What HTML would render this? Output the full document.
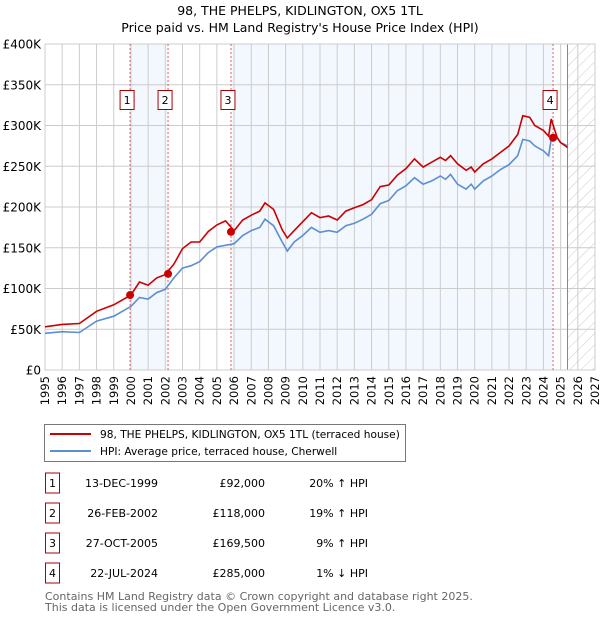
<!DOCTYPE html>
<html><head><meta charset="utf-8">
<style>
body{margin:0;background:#fff;font-family:"DejaVu Sans","Liberation Sans",sans-serif;}
svg text{font-family:"DejaVu Sans","Liberation Sans",sans-serif;}
</style></head>
<body>
<svg id="chart" width="600" height="620" xmlns="http://www.w3.org/2000/svg">
<defs>
<pattern id="hatch" width="8" height="8" patternUnits="userSpaceOnUse" patternTransform="rotate(45)">
<line x1="0" y1="0" x2="0" y2="8" stroke="#ccc" stroke-width="1"/>
</pattern>
</defs>
<text x="300" y="15" text-anchor="middle" font-size="12.5">98, THE PHELPS, KIDLINGTON, OX5 1TL</text>
<text x="300" y="32" text-anchor="middle" font-size="12.5">Price paid vs. HM Land Registry's House Price Index (HPI)</text>
<g id="plot"></g>
<g>
<rect x="44.5" y="424.5" width="361" height="37" fill="#fff" stroke="#777"/>
<line x1="50" y1="434" x2="91" y2="434" stroke="#cc0000" stroke-width="2"/>
<text x="100" y="438" font-size="10.6">98, THE PHELPS, KIDLINGTON, OX5 1TL (terraced house)</text>
<line x1="50" y1="451" x2="91" y2="451" stroke="#5b8fd0" stroke-width="2"/>
<text x="100" y="455" font-size="10.6">HPI: Average price, terraced house, Cherwell</text>
</g>
<g id="table" font-size="11"></g>
<text x="45" y="600" font-size="11" fill="#666">Contains HM Land Registry data © Crown copyright and database right 2025.</text>
<text x="45" y="611" font-size="11" fill="#666">This data is licensed under the Open Government Licence v3.0.</text>
</svg>
<script>
const hpiYears=[1995,1996,1997,1998,1999,2000,2000.5,2001,2001.5,2002,2002.5,2003,2003.5,2004,2004.5,2005,2005.5,2006,2006.5,2007,2007.5,2007.8,2008.3,2008.8,2009.1,2009.5,2010,2010.5,2011,2011.5,2012,2012.5,2013,2013.5,2014,2014.5,2015,2015.5,2016,2016.5,2017,2017.5,2018,2018.3,2018.6,2019,2019.5,2019.8,2020,2020.5,2021,2021.5,2022,2022.5,2022.8,2023.2,2023.5,2024,2024.3,2024.45,2024.8,2025,2025.4];
const hpiValues=[45,47,46,60,66,78,89,87,95,99,113,125,128,133,144,151,153,155,165,171,175,185,177,157,146,157,165,175,169,171,169,177,180,185,191,204,208,220,226,236,228,232,238,234,240,228,222,228,222,232,238,246,252,263,283,281,275,269,263,283,285,279,275];
const redValues=[53,56,57,72,80,92,108,104,113,117,130,149,157,157,170,178,183,171,184,190,195,205,197,172,162,171,182,193,187,189,184,195,199,203,209,225,227,239,247,259,249,255,261,257,263,253,245,249,243,253,259,267,275,289,312,310,300,294,287,308,285,279,273];
const saleYears=[1999.95,2002.16,2005.82,2024.56];
const saleValues=[92,118,169.5,285];
const saleLabels=["1","2","3","4"];
const saleDates=["13-DEC-1999","26-FEB-2002","27-OCT-2005","22-JUL-2024"];
const salePrices=["£92,000","£118,000","£169,500","£285,000"];
const saleDiffs=["20% ↑ HPI","19% ↑ HPI","9% ↑ HPI","1% ↓ HPI"];
const yTicks=[0,50,100,150,200,250,300,350,400];
const yTickLabels=["£0","£50K","£100K","£150K","£200K","£250K","£300K","£350K","£400K"];
const xTicks=[1995,1996,1997,1998,1999,2000,2001,2002,2003,2004,2005,2006,2007,2008,2009,2010,2011,2012,2013,2014,2015,2016,2017,2018,2019,2020,2021,2022,2023,2024,2025,2026,2027];
const dataEnd=2025.4;

const X0=45,X1=595,Y0=370,Y1=44;
const xs=y=>X0+(y-1995)/(2027-1995)*(X1-X0);
const ys=v=>Y0-v/400*(Y0-Y1);
const NS="http://www.w3.org/2000/svg";
const plot=document.getElementById('plot');
function mk(tag,attrs,parent){const e=document.createElementNS(NS,tag);for(const k in attrs)e.setAttribute(k,attrs[k]);(parent||plot).appendChild(e);return e;}

let r=mk('rect',{x:X0,y:Y1,width:X1-X0,height:Y0-Y1,fill:'#fff'});


r=mk('rect',{x:xs(saleYears[0]),y:Y1,width:xs(saleYears[1])-xs(saleYears[0]),height:Y0-Y1,fill:'#eef3fd',opacity:0.7});


r=mk('rect',{x:xs(saleYears[2]),y:Y1,width:xs(saleYears[3])-xs(saleYears[2]),height:Y0-Y1,fill:'#eef3fd',opacity:0.7});


r=mk('rect',{x:xs(dataEnd),y:Y1,width:X1-xs(dataEnd),height:Y0-Y1,fill:'url(#hatch)'});



xTicks.forEach(t=>{
 const l=mk('line',{x1:xs(t),x2:xs(t),y1:Y1,y2:Y0,stroke:'#ccc','stroke-width':1});
 
 
 const tx=mk('text',{x:0,y:0,'font-size':11.5,'text-anchor':'end',transform:`translate(${xs(t)+4},${Y0+6}) rotate(-90)`});
 tx.textContent=t;
 
 
});
yTicks.forEach((t,i)=>{
 const l=mk('line',{x1:X0,x2:X1,y1:ys(t),y2:ys(t),stroke:'#ccc','stroke-width':1});
 
 
 const tx=mk('text',{x:X0-4,y:ys(t)+4.5,'font-size':12,'text-anchor':'end'});
 tx.textContent=yTickLabels[i];
 
 
});
r=mk('line',{x1:xs(dataEnd),x2:xs(dataEnd),y1:Y1,y2:Y0,stroke:'#888','stroke-width':1});


r=mk('rect',{x:X0,y:Y1,width:X1-X0,height:Y0-Y1,fill:'none',stroke:'#ccc'});



saleYears.forEach((s,i)=>{
 const l=mk('line',{x1:xs(s),x2:xs(s),y1:Y1,y2:Y0,stroke:'#e06060','stroke-width':1,'stroke-dasharray':'2,2'});
 
 
});

const hp=mk('path',{d:hpiYears.map((y,i)=>(i?'L':'M')+xs(y).toFixed(1)+','+ys(hpiValues[i]).toFixed(1)).join(''),fill:'none',stroke:'#5b8fd0','stroke-width':1.6});


const rp=mk('path',{d:hpiYears.map((y,i)=>(i?'L':'M')+xs(y).toFixed(1)+','+ys(redValues[i]).toFixed(1)).join(''),fill:'none',stroke:'#cc0000','stroke-width':1.6});



saleYears.forEach((s,i)=>{
 const c=mk('circle',{cx:xs(s),cy:ys(saleValues[i]),r:4,fill:'#cc0000'});
 
 
 const bx=xs(s)-10;
 const b=mk('rect',{x:bx,y:90.5,width:14,height:19,fill:'#fff',stroke:'#aa0000'});
 
 
 const t=mk('text',{x:bx+7,y:104,'font-size':11,'text-anchor':'middle'});
 t.textContent=saleLabels[i];
 
 
});

const tbl=document.getElementById('table');
saleLabels.forEach((lab,i)=>{
 const cy=483+i*30;
 const b=mk('rect',{x:45.5,y:cy-10,width:14,height:20,fill:'#fff',stroke:'#aa0000'},tbl);
 
 
 let t=mk('text',{x:52.5,y:cy+4,'text-anchor':'middle'},tbl);
 t.textContent=lab;
 
 
 t=mk('text',{x:158,y:cy+4,'text-anchor':'end'},tbl);
 t.textContent=saleDates[i];
 
 
 t=mk('text',{x:265,y:cy+4,'text-anchor':'end'},tbl);
 t.textContent=salePrices[i];
 
 
 t=mk('text',{x:368,y:cy+4,'text-anchor':'end'},tbl);
 t.textContent=saleDiffs[i];
 
 
});
</script>
</body></html>
